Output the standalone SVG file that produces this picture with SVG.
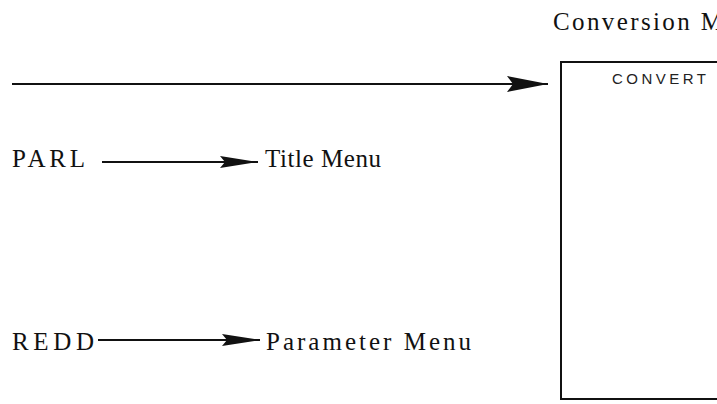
<svg xmlns="http://www.w3.org/2000/svg" width="717" height="404" viewBox="0 0 717 404">
<style>
.lbl{font-family:"Liberation Serif","Times New Roman",serif;font-size:25px;fill:#111;}
.scr{font-family:"Liberation Sans",Arial,sans-serif;font-size:15px;fill:#222;}
.conn{stroke:#111;stroke-width:2;fill:none;}
.head{fill:#111;}
</style>
<defs>
<marker id="big" markerUnits="userSpaceOnUse" markerWidth="44" markerHeight="18" refX="42" refY="9" orient="auto">
<path class="head" d="M42,9 L1,1 L7,9 L1,17 Z"/>
</marker>
<marker id="small" markerUnits="userSpaceOnUse" markerWidth="40" markerHeight="14" refX="39" refY="7" orient="auto">
<path class="head" d="M39,7 L1,1 L6,7 L1,13 Z"/>
</marker>
</defs>
<rect width="717" height="404" fill="#fff"/>
<g id="connectors">
<line class="conn" x1="12" y1="84" x2="548" y2="84" marker-end="url(#big)"/>
<line class="conn" x1="102" y1="162" x2="258" y2="162" marker-end="url(#small)"/>
<line class="conn" x1="98" y1="340" x2="260" y2="340" marker-end="url(#small)"/>
</g>
<g id="conversion-menu">
<text class="lbl" x="553" y="30" textLength="170" lengthAdjust="spacing">Conversion M</text>
<rect x="561" y="62" width="170" height="337" fill="none" stroke="#111" stroke-width="2"/>
<text class="scr" x="612" y="84" textLength="94" lengthAdjust="spacing">CONVERT</text>
</g>
<g id="parl"><text class="lbl" x="12" y="167" textLength="73" lengthAdjust="spacing">PARL</text></g>
<g id="title-menu"><text class="lbl" x="265" y="167" textLength="116" lengthAdjust="spacing">Title Menu</text></g>
<g id="redd"><text class="lbl" x="12" y="350" textLength="82" lengthAdjust="spacing">REDD</text></g>
<g id="parameter-menu"><text class="lbl" x="266" y="350" textLength="205" lengthAdjust="spacing">Parameter Menu</text></g>
</svg>
